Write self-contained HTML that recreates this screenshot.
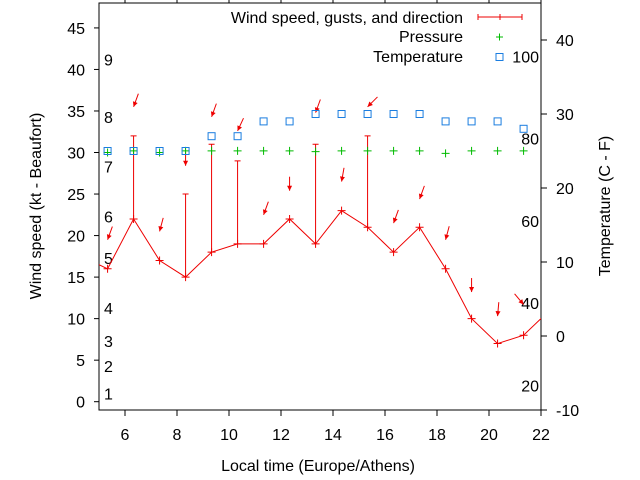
<!DOCTYPE html>
<html><head><meta charset="utf-8"><style>
body{margin:0;background:#fff}
svg{display:block;font-family:"Liberation Sans",sans-serif;font-size:16px}
</style></head><body>
<svg id="c" width="640" height="480"></svg>
<script>
const times=[5.33,6.33,7.33,8.33,9.33,10.33,11.33,12.33,13.33,14.33,15.33,16.33,17.33,18.33,19.33,20.33,21.33,22.33];
const windSpeed=[16,22,17,15,18,19,19,22,19,23,21,18,21,16,10,7,8,11];
const gustTimes=[6.33,8.33,9.33,10.33,13.33,15.33];
const gustValues=[32,25,31,29,31,32];
const arrowY=[19.5,35.5,20.5,28.4,34.3,32.6,22.5,25.4,34.8,26.5,35.5,21.5,24.4,19.5,13.2,10.3,11.7];
const arrowDir=[20,20,15,0,20,25,20,0,20,10,45,20,20,15,0,5,-40];
const pressure=[30.0,30.2,30.0,30.2,30.2,30.2,30.2,30.2,30.1,30.2,30.2,30.2,30.2,29.9,30.2,30.2,30.2];
const temperature=[25,25,25,25,27,27,29,29,30,30,30,30,30,29,29,29,28];
const xTicks=[6,8,10,12,14,16,18,20,22];
const yTicks=[0,5,10,15,20,25,30,35,40,45];
const y2Ticks=[-10,0,10,20,30,40];
const beaufort=[[1,1],[2,4.3],[3,7.3],[4,11.3],[5,17.3],[6,22.3],[7,28.3],[8,34.3],[9,41.2]];
const fahr=[20,40,60,80,100];
const L=99,R=541,T=3,B=410;
const X=v=>L+(v-5)/(22-5)*(R-L);
const Y=v=>B-(v+1)/(48+1)*(B-T);
const Y2=v=>B-(v+10)/(45+10)*(B-T);
const YF=f=>Y2((f-32)*5/9);
const s=document.getElementById('c');const NS='http://www.w3.org/2000/svg';
function mk(t,a,p){const e=document.createElementNS(NS,t);for(const k in a)e.setAttribute(k,a[k]);(p||s).appendChild(e);return e;}
function txt(x,y,t,anchor,p){const e=mk('text',{x:x,y:y,'text-anchor':anchor||'middle'},p);e.textContent=t;return e;}
let g=mk('g',{});


mk('rect',{x:L,y:T,width:R-L,height:B-T,fill:'none',stroke:'#000'},g);
let xa=mk('g',{});


xTicks.forEach(v=>{mk('line',{x1:X(v),x2:X(v),y1:B,y2:B+6,stroke:'#000'},xa);mk('line',{x1:X(v),x2:X(v),y1:T,y2:T-4,stroke:'#000'},xa);txt(X(v),B+30,v,'middle',xa);});
let ya=mk('g',{});


yTicks.forEach(v=>{mk('line',{x1:L-5,x2:L,y1:Y(v),y2:Y(v),stroke:'#000'},ya);txt(L-14,Y(v)+6,v,'end',ya);});
let yb=mk('g',{});


y2Ticks.forEach(v=>{mk('line',{x1:R,x2:R+6,y1:Y2(v),y2:Y2(v),stroke:'#000'},yb);txt(R+15,Y2(v)+6,v,'start',yb);});
let bf=mk('g',{});


beaufort.forEach(b=>txt(104,Y(b[1])+6,b[0],'start',bf));
let ff=mk('g',{});


fahr.forEach(f=>txt(539,YF(f)+6,f,'end',ff));
let t1=txt(318,471,'Local time (Europe/Athens)');


let t2=txt(0,0,'Wind speed (kt - Beaufort)');t2.setAttribute('transform','translate(41,206) rotate(-90)');


let t3=txt(0,0,'Temperature (C - F)');t3.setAttribute('transform','translate(610,206) rotate(-90)');


const cp=mk('clipPath',{id:'cl'});mk('rect',{x:L,y:T,width:R-L,height:B-T},cp);
const pg=mk('g',{'clip-path':'url(#cl)'});
let pts=times.map((t,i)=>X(t)+','+Y(windSpeed[i])).join(' ');
let prev=X(4.33)+','+Y(17.5);
let wl=mk('polyline',{points:prev+' '+pts,fill:'none',stroke:'#e00',"stroke-width":1},pg);


times.forEach((t,i)=>{const m=mk('path',{d:`M${X(t)-4},${Y(windSpeed[i])}h8M${X(t)},${Y(windSpeed[i])-4}v8`,stroke:'#e00'},pg);

});
gustTimes.forEach((t,i)=>{const k=times.indexOf(t);const m=mk('path',{d:`M${X(t)},${Y(windSpeed[k])}V${Y(gustValues[i])}M${X(t)-3},${Y(gustValues[i])}h6`,stroke:'#e00',fill:'none'},pg);

});
arrowY.forEach((v,i)=>{const x=X(times[i]),y=Y(v),a=arrowDir[i]*Math.PI/180;const dx=Math.sin(a)*14,dy=-Math.cos(a)*14;
const ag=mk('g',{},pg);


mk('line',{x1:x+dx,y1:y+dy,x2:x,y2:y,stroke:'#e00'},ag);
const ux=-dx/14,uy=-dy/14,px=-uy,py=ux;
mk('polygon',{points:`${x},${y} ${x-ux*5+px*2.5},${y-uy*5+py*2.5} ${x-ux*5-px*2.5},${y-uy*5-py*2.5}`,fill:'#e00'},ag);});
pressure.forEach((v,i)=>{const x=X(times[i]),y=Y(v);const m=mk('path',{d:`M${x-4},${y}h8M${x},${y-4}v8`,stroke:'#0b0'},pg);

});
temperature.forEach((v,i)=>{const x=X(times[i]),y=Y2(v);const m=mk('rect',{x:x-3.5,y:y-3.5,width:7,height:7,fill:'none',stroke:'#1a7de0'},pg);

});
const lg=mk('g',{});


txt(463,23,'Wind speed, gusts, and direction','end',lg);
mk('path',{d:'M478,17h44M478,14v6M522,14v6M500,14v6',stroke:'#e00',fill:'none'},lg);
txt(463,42,'Pressure','end',lg);
mk('path',{d:'M496,37h7M499.5,33.5v7',stroke:'#0b0'},lg);
txt(463,62,'Temperature','end',lg);
mk('rect',{x:496,y:53.5,width:7,height:7,fill:'none',stroke:'#1a7de0'},lg);
</script>
</body></html>
